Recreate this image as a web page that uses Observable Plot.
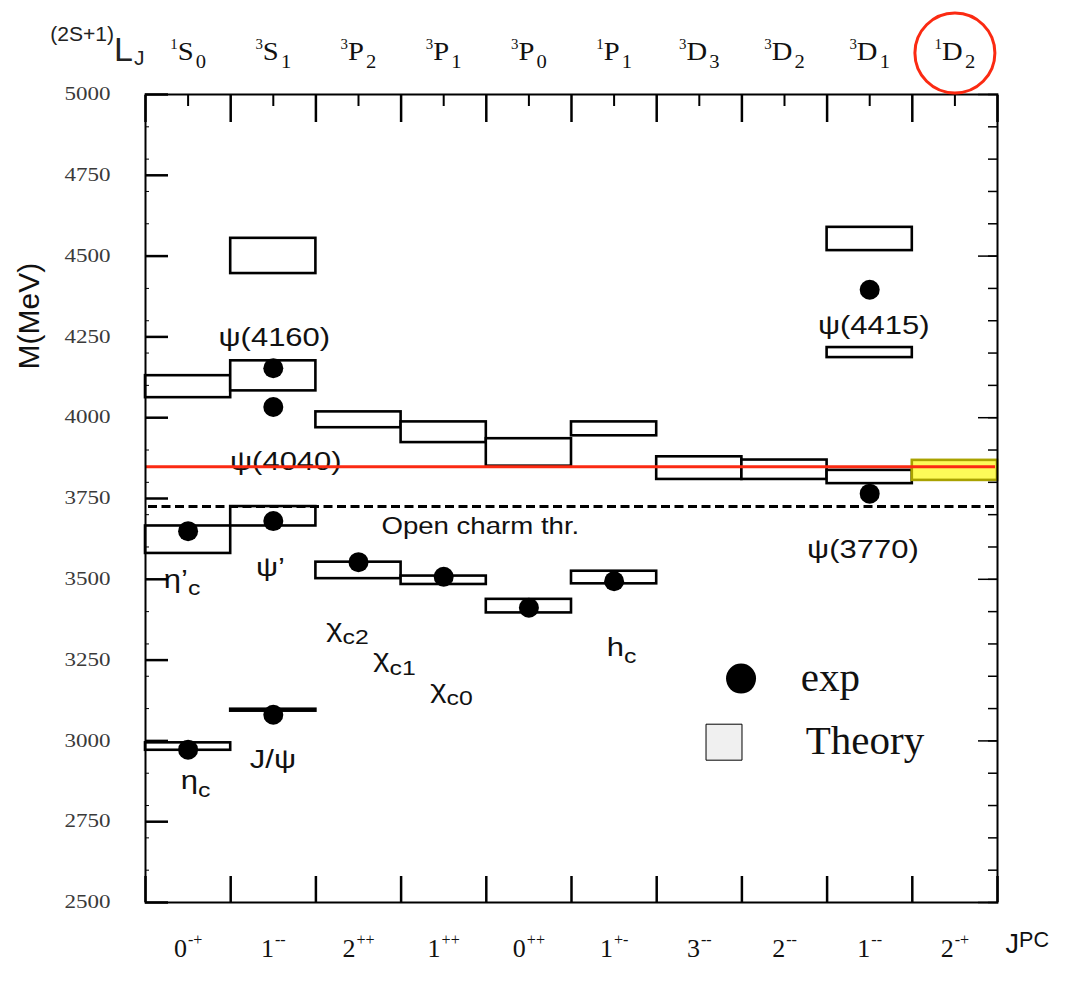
<!DOCTYPE html>
<html>
<head>
<meta charset="utf-8">
<script src="https://cdn.jsdelivr.net/npm/d3@7"></script>
<script src="https://cdn.jsdelivr.net/npm/@observablehq/plot@0.6"></script>
<style>
html, body { margin: 0; padding: 0; background: #ffffff; }
#chart svg { display: block; }
</style>
</head>
<body>
<div id="chart"></div>
<script>
// ---- categories / tick labels ----
const jpcLabels   = ["0^{-+}", "1^{--}", "2^{++}", "1^{++}", "0^{++}", "1^{+-}", "3^{--}", "2^{--}", "1^{--}", "2^{-+}"];
const stateLabels = ["^{1}S_{0}", "^{3}S_{1}", "^{3}P_{2}", "^{3}P_{1}", "^{3}P_{0}", "^{1}P_{1}", "^{3}D_{3}", "^{3}D_{2}", "^{3}D_{1}", "^{1}D_{2}"];
const yTicks      = [2500, 2750, 3000, 3250, 3500, 3750, 4000, 4250, 4500, 4750, 5000];

// ---- theory predictions (column index, lower / upper mass in MeV) ----
const theoryCol = [0, 0, 0, 1, 1, 1, 1, 2, 2, 3, 3, 4, 4, 5, 5, 6, 7, 8, 8, 8];
const theoryLo  = [4062, 3580, 2971, 4446, 4083, 3665, 3092, 3969, 3502, 3923, 3484, 3850, 3396, 3944, 3486, 3809, 3809, 4517, 4186, 3796];
const theoryHi  = [4130, 3665, 2994, 4555, 4176, 3725, 3098, 4018, 3553, 3987, 3510, 3935, 3438, 3987, 3525, 3879, 3869, 4589, 4217, 3837];

// ---- highlighted 1D2 prediction ----
const predCol = [9];
const predLo  = [3806];
const predHi  = [3868];

// ---- experimental masses ----
const expCol  = [0, 0, 1, 1, 1, 1, 2, 3, 4, 5, 8, 8];
const expMass = [2973, 3649, 3081, 3680, 4033, 4153, 3553, 3508, 3412, 3494, 3765, 4396];

// ---- reference levels ----
const openCharmThr = 3725;
const redLevel     = 3848;

// ---- state annotations ----
const annText = ["ψ(4160)", "ψ(4040)", "Open charm thr.", "η’_{c}", "ψ’", "χ_{c2}", "χ_{c1}", "χ_{c0}", "h_{c}", "η_{c}", "J/ψ", "ψ(4415)", "ψ(3770)"];
const annCol  = [1.512, 1.647, 3.93, 0.43, 1.467, 2.371, 2.923, 3.592, 5.587, 0.587, 1.496, 8.548, 8.421];
const annMass = [4246, 3862, 3662, 3499, 3536, 3347, 3252, 3159, 3288, 2875, 2942, 4285, 3591];

// ---- legend ----
const legendLabels = ["exp", "Theory"];

const theory = theoryCol.map((c, i) => ({col: c, lo: theoryLo[i], hi: theoryHi[i]}));
const pred   = predCol.map((c, i) => ({col: c, lo: predLo[i], hi: predHi[i]}));
const exp    = expCol.map((c, i) => ({col: c, m: expMass[i]}));
const ann    = annText.map((t, i) => ({t, x: annCol[i], y: annMass[i], small: t.startsWith("Open")}));
const centers = d3.range(10).map(i => i + 0.5);
const bounds  = d3.range(0, 11);

const RED = "#fb2a12";
const SANS = "Liberation Sans";
const SERIF = "Liberation Serif";

const plot = Plot.plot({
  width: 1068,
  height: 993,
  marginLeft: 145,
  marginRight: 71,
  marginTop: 94,
  marginBottom: 91,
  style: {fontFamily: SANS, fontSize: "12px", background: "#ffffff", overflow: "visible"},
  x: {domain: [0, 10]},
  y: {domain: [2500, 5000]},
  marks: [
    // theory boxes
    Plot.rect(theory, {x1: d => d.col, x2: d => d.col + 1, y1: "lo", y2: "hi", fill: "white", stroke: "black", strokeWidth: 2.6}),
    Plot.rect(pred, {x1: d => d.col, x2: d => d.col + 1, y1: "lo", y2: "hi", fill: "#fdfb58", stroke: "#a9a200", strokeWidth: 2.6}),
    // open charm threshold
    Plot.ruleY([openCharmThr], {stroke: "black", strokeWidth: 3, strokeDasharray: "9,4.5", insetLeft: 3, insetRight: 3}),
    // annotations
    Plot.text(ann.filter(d => !d.small), {x: "x", y: "y", text: "t", fontSize: 25, fontFamily: SANS, fill: "#111", ariaDescription: "ann"}),
    Plot.text(ann.filter(d => d.small), {x: "x", y: "y", text: "t", fontSize: 23, fontFamily: SANS, fill: "#111", ariaDescription: "annsmall"}),
    // experimental points
    Plot.dot(exp, {x: d => d.col + 0.5, y: "m", r: 10, fill: "black"}),
    // red level line
    Plot.ruleY([redLevel], {stroke: RED, strokeWidth: 3, insetRight: 2}),
    // frame
    Plot.frame({stroke: "black", strokeWidth: 2}),
    // y tick labels
    Plot.text(yTicks, {y: d => d, text: d => String(d), frameAnchor: "left", textAnchor: "end", dx: -35, fontSize: 18, fontFamily: SERIF, fill: "#3a3a3a", ariaDescription: "yticks"}),
    // y inward ticks
    Plot.axisY(yTicks, {anchor: "left", tickSize: -23, tickFormat: () => "", label: null, strokeWidth: 2.5}),
    Plot.axisY(d3.range(2500, 5001, 100), {anchor: "left", tickSize: -4, tickFormat: () => "", label: null, strokeWidth: 1}),
    Plot.axisY(d3.range(2500, 5001, 100), {anchor: "right", tickSize: -10, tickFormat: () => "", label: null, strokeWidth: 1.5}),
    Plot.axisY(d3.range(2500, 5001, 500), {anchor: "right", tickSize: -20, tickFormat: () => "", label: null, strokeWidth: 1.5}),
    // top ticks
    Plot.axisX(bounds, {anchor: "top", tickSize: -27, tickFormat: () => "", label: null, strokeWidth: 2.5}),
    Plot.axisX(centers, {anchor: "top", tickSize: -11, tickFormat: () => "", label: null, strokeWidth: 2}),
    // bottom ticks
    Plot.axisX(bounds, {anchor: "bottom", tickSize: -26, tickFormat: () => "", label: null, strokeWidth: 2.5}),
    // top state labels
    Plot.text(stateLabels, {x: (d, i) => i + 0.5, text: d => d, frameAnchor: "top", lineAnchor: "bottom", dy: -35, fontSize: 26, fontFamily: SERIF, fill: "#111", ariaDescription: "states"}),
    // bottom JPC labels
    Plot.text(jpcLabels, {x: (d, i) => i + 0.5, text: d => d, frameAnchor: "bottom", lineAnchor: "bottom", dy: 54, fontSize: 26, fontFamily: SERIF, fill: "#111", ariaDescription: "jpc"}),
    Plot.text(["J^{PC}"], {frameAnchor: "bottom-right", textAnchor: "start", lineAnchor: "bottom", dx: 8, dy: 50, fontSize: 27, fontFamily: SANS, fill: "#111", ariaDescription: "jpctitle"}),
    Plot.text(["^{(2S+1)}L_{J}"], {frameAnchor: "top-left", textAnchor: "end", lineAnchor: "bottom", dx: -1, dy: -34, fontSize: 34, fontFamily: SANS, fill: "#222", ariaDescription: "lj"}),
    // highlight circle around 1D2
    Plot.dot([9.5], {x: d => d, frameAnchor: "top", dy: -41.5, r: 40, fill: "none", stroke: RED, strokeWidth: 3}),
    // y label
    Plot.text(["M(MeV)"], {frameAnchor: "left", rotate: -90, dx: -116, dy: -129, fontSize: 30, fontFamily: SANS, fill: "#111"}),
    // legend
    Plot.dot([0], {x: 6.99, y: 3193, r: 15, fill: "black"}),
    Plot.dot([0], {x: 6.79, y: 2996, symbol: "square", r: 20.3, fill: "#f0f0f0", stroke: "black", strokeWidth: 1}),
    Plot.text([legendLabels[0]], {x: 7.69, y: 3154, text: d => d, textAnchor: "start", lineAnchor: "bottom", fontSize: 41, fontFamily: SERIF, fill: "#111"}),
    Plot.text([legendLabels[1]], {x: 7.75, y: 2958, text: d => d, textAnchor: "start", lineAnchor: "bottom", fontSize: 41, fontFamily: SERIF, fill: "#111"})
  ]
});

document.getElementById("chart").appendChild(plot);

// ---- rich text: ^{..} superscript, _{..} subscript; optional horizontal stretch ----
const richCfg = {
  states:   {supR: 0.52, supUp: 0.42, subR: 0.72, subDown: 0.34, subDx: 2, sx: 1.1},
  jpc:      {supR: 0.62, supUp: 0.45, subR: 0.7,  subDown: 0.3,  supDx: 1},
  ann:      {supR: 0.7,  supUp: 0.4,  subR: 0.8,  subDown: 0.3,  subDx: 0, sx: 1.24},
  annsmall: {sx: 1.2},
  yticks:   {sx: 1.28},
  jpctitle: {supR: 0.8,  supUp: 0.22, subR: 0.7,  subDown: 0.3},
  lj:       {supR: 0.62, supUp: 0.58, subR: 0.62, subDown: 0.12, subDx: 1}
};
const SVGNS = "http://www.w3.org/2000/svg";
plot.querySelectorAll("g[aria-description]").forEach(g => {
  const cfg = richCfg[g.getAttribute("aria-description")];
  if (!cfg) return;
  g.querySelectorAll("text").forEach(t => {
    if (cfg.sx) {
      const tr = t.getAttribute("transform") || "";
      t.setAttribute("transform", tr + ` scale(${cfg.sx},1)`);
    }
    const s = t.textContent;
    if (!/[_^]\{/.test(s)) return;
    const fs = parseFloat(getComputedStyle(t).fontSize);
    t.textContent = "";
    let shift = 0;
    const re = /([_^])\{([^}]*)\}|([^_^]+)/g;
    let m;
    while ((m = re.exec(s))) {
      const ts = document.createElementNS(SVGNS, "tspan");
      let target = 0, dx = 0;
      if (m[1] === "^") {
        target = -cfg.supUp * fs; ts.setAttribute("font-size", cfg.supR * fs); ts.textContent = m[2]; dx = cfg.supDx || 0;
      } else if (m[1] === "_") {
        target = cfg.subDown * fs; ts.setAttribute("font-size", cfg.subR * fs); ts.textContent = m[2]; dx = cfg.subDx || 0;
      } else {
        ts.textContent = m[3];
      }
      ts.setAttribute("dy", target - shift);
      if (dx) ts.setAttribute("dx", dx);
      shift = target;
      t.appendChild(ts);
    }
  });
});
</script>
</body>
</html>
